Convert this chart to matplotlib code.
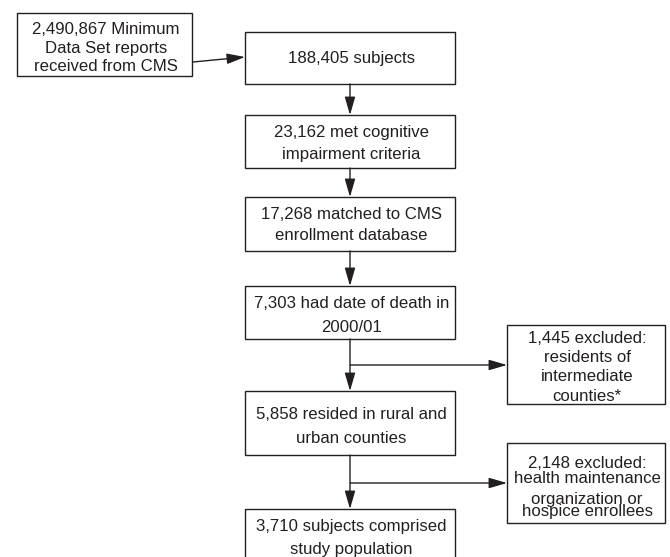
import matplotlib.pyplot as plt
from matplotlib.patches import Rectangle, FancyArrowPatch

plt.rcParams['font.family'] = ['Liberation Sans', 'DejaVu Sans']

INK = '#231f20'

# Box texts (flow order)
source_text = ['2,490,867 Minimum', 'Data Set reports', 'received from CMS']
main_texts = [
    ['188,405 subjects'],
    ['23,162 met cognitive', 'impairment criteria'],
    ['17,268 matched to CMS', 'enrollment database'],
    ['7,303 had date of death in', '2000/01'],
    ['5,858 resided in rural and', 'urban counties'],
    ['3,710 subjects comprised', 'study population'],
]
excluded_1445 = ['1,445 excluded:', 'residents of', 'intermediate', 'counties*']
excluded_2148 = ['2,148 excluded:', 'health maintenance', 'organization or', 'hospice enrollees']

# Layout in pixels (y grows downwards)
main_x0, main_x1 = 245, 455
main_boxes = [(32, 84), (115, 168), (197, 251), (286, 339), (391, 455), (509, 560)]
main_line_y = [[59], [133, 154.5], [214.5, 235.5], [303.5, 327.5], [414.5, 438.5], [526.5, 549.5]]
side_x0, side_x1 = 507, 665
side_boxes = [(325, 404), (443, 523)]
branch_y = [365, 483]

fig = plt.figure(figsize=[6.7, 5.57], dpi=100)
ax = fig.add_axes([0, 0, 1, 1])
ax.set_xlim(0, 670)
ax.set_ylim(557, 0)
ax.axis('off')


def box(x0, y0, x1, y1):
    ax.add_patch(Rectangle((x0, y0), x1 - x0, y1 - y0, fill=False,
                           edgecolor=INK, linewidth=1.0))


def arrow(p0, p1):
    ax.add_patch(FancyArrowPatch(p0, p1, arrowstyle='-|>,head_length=1.1,head_width=0.32',
                                 mutation_scale=10, color=INK, linewidth=1.0,
                                 shrinkA=0, shrinkB=0))


def lines(x, ys, texts):
    for y, s in zip(ys, texts):
        ax.text(x, y, s, ha='center', va='center', fontsize=12.1, color=INK)


def block(x, y, texts, ls):
    ax.text(x, y, '\n'.join(texts), ha='center', va='center', fontsize=12.1,
            color=INK, linespacing=ls, multialignment='center')


cx = (main_x0 + main_x1) / 2

# source box
box(17, 13, 192, 76)
lines(106, [29.5, 48, 66.5], source_text)
arrow((193, 62), (245, 57))

for i, (t, (y0, y1)) in enumerate(zip(main_texts, main_boxes)):
    box(main_x0, y0, main_x1, y1)
    lines(cx + 1.5, main_line_y[i], t)
    if i + 1 < len(main_boxes):
        arrow((cx, y1), (cx, main_boxes[i + 1][0]))

# exclusion branches
sx = (side_x0 + side_x1) / 2 + 1
for (y0, y1), by in zip(side_boxes, branch_y):
    box(side_x0, y0, side_x1, y1)
    arrow((cx, by), (side_x0, by))

lines(sx, [338.5, 357.5, 376.5, 396.5], excluded_1445)
block(sx, 471, excluded_2148[:2], 0.92)
block(sx, 505.5, excluded_2148[2:], 0.76)

fig.savefig('out.png', dpi=100)
